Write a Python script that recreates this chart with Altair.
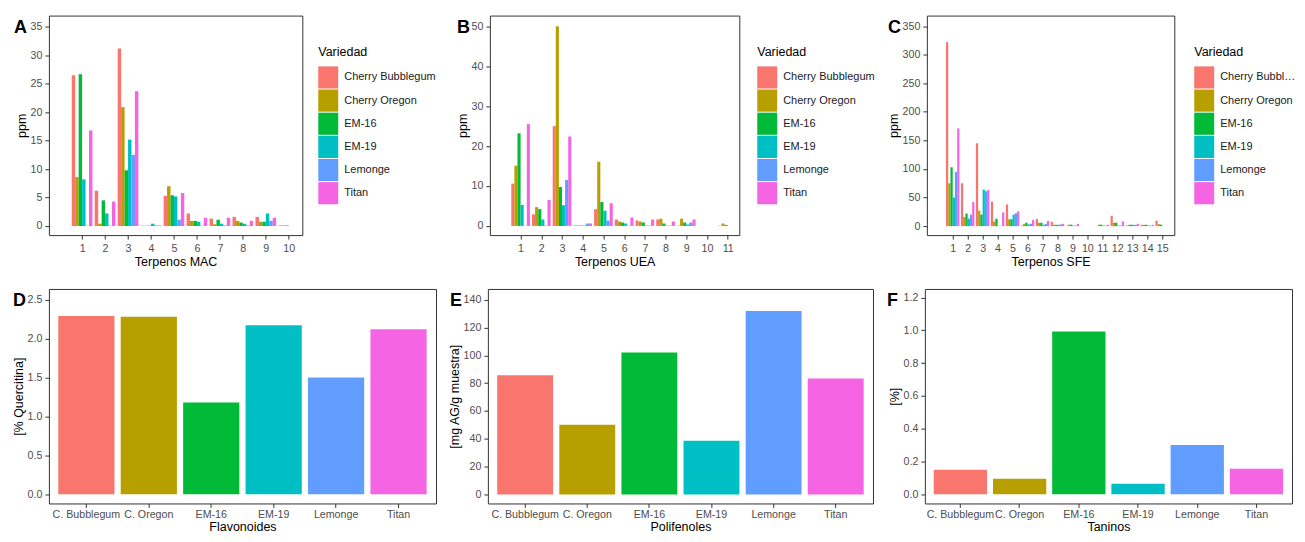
import altair as alt
import pandas as pd

# ---------------- data ----------------
variedades = ["Cherry Bubblegum", "Cherry Oregon", "EM-16", "EM-19", "Lemonge", "Titan"]
etiquetas = ["C. Bubblegum", "C. Oregon", "EM-16", "EM-19", "Lemonge", "Titan"]
colores = ["#F8766D", "#B79F00", "#00BA38", "#00BFC4", "#619CFF", "#F564E3"]

# Terpenos MAC (10 terpenos)
mac_cb = [26.5, 6.2, 31.2, 0.05, 5.3, 2.2, 1.3, 1.6, 1.6, 0.1]
mac_co = [8.6, 0.4, 20.9, 0.05, 7.0, 0.9, 0.3, 0.9, 0.75, 0.1]
mac_em16 = [26.7, 4.5, 9.8, 0.05, 5.4, 0.9, 1.1, 0.6, 0.75, 0.1]
mac_em19 = [8.2, 2.2, 15.2, 0.4, 5.2, 0.75, 0.4, 0.4, 2.2, 0.0]
mac_lem = [0.05, 0.05, 12.5, 0.1, 1.1, 0.05, 0.1, 0.1, 0.9, 0.0]
mac_titan = [16.8, 4.3, 23.7, 0.1, 5.8, 1.45, 1.45, 0.9, 1.45, 0.0]

# Terpenos UEA (11 terpenos)
uea_cb = [10.6, 2.9, 25.0, 0.1, 4.2, 1.6, 1.35, 1.6, 0.1, 0.0, 0.1]
uea_co = [15.1, 4.7, 50.0, 0.1, 16.1, 1.1, 1.1, 1.8, 1.8, 0.0, 0.6]
uea_em16 = [23.2, 4.2, 9.75, 0.1, 6.0, 0.85, 0.85, 0.6, 0.85, 0.0, 0.25]
uea_em19 = [5.25, 1.6, 5.2, 0.1, 3.8, 0.6, 0.1, 0.1, 0.35, 0.0, 0.0]
uea_lem = [0.05, 0.1, 11.5, 0.6, 1.3, 0.05, 0.1, 0.1, 0.85, 0.0, 0.0]
uea_titan = [25.5, 6.5, 22.4, 0.6, 5.7, 2.1, 1.6, 1.1, 1.6, 0.0, 0.0]

# Terpenos SFE (15 terpenos)
sfe_cb = [322, 75, 145, 43, 38, 1, 12.5, 7.5, 0.5, 0, 0.6, 18, 1.2, 2.3, 9.5]
sfe_co = [75, 16, 27, 8, 12, 4, 6, 2.3, 2.5, 0, 2.5, 6, 2.3, 2.3, 3.5]
sfe_em16 = [103, 22, 20, 13, 12, 6, 6, 2.3, 2.5, 0, 2.5, 6, 2.3, 2.3, 2.5]
sfe_em19 = [50, 13, 64, 0.5, 20, 3, 2.3, 2.3, 0.8, 0, 1, 1, 2.3, 1, 0]
sfe_lem = [95, 20, 61, 0.5, 22.5, 4, 4, 3, 1.2, 0, 1, 1, 2.3, 1, 0]
sfe_titan = [171, 42, 63, 24, 26, 10.5, 9, 4, 4, 0, 2.3, 8, 4, 2.3, 0]

# Bottom panels
flavonoides = [2.29, 2.28, 1.18, 2.17, 1.50, 2.12]
polifenoles = [85.6, 50.0, 102.1, 38.6, 131.9, 83.3]
taninos = [0.149, 0.095, 0.992, 0.064, 0.300, 0.155]

# ---------------- style ----------------
FONT = "Liberation Sans"
TICK_LABEL = "#4D4D4D"
FRAME = "#333333"
TICK_FS = 10.7
SYMBOL = "M-1,-1.11L1,-1.11L1,1.11L-1,1.11Z"


def make_legend(lx, ly, limit=200):
    return alt.Legend(
        title="Variedad", orient="none", legendX=lx, legendY=ly,
        symbolType=SYMBOL, symbolSize=400, symbolStrokeWidth=0, symbolOpacity=1,
        rowPadding=-0.8, labelFont=FONT, labelFontSize=11, labelColor="#1A1A1A",
        labelOffset=6, labelLimit=limit, titleFont=FONT, titleFontSize=12.5,
        titleFontWeight="normal", titleColor="black", titlePadding=9.5, padding=0,
    )


def y_axis(title, values, fmt):
    return alt.Axis(
        title=title, values=values, format=fmt, grid=False, domain=False,
        tickColor=FRAME, tickSize=4, labelPadding=3, labelColor=TICK_LABEL,
        labelFont=FONT, labelFontSize=TICK_FS, titleFont=FONT, titleFontSize=12.5,
        titleFontWeight="normal", titleColor="black", titlePadding=2,
    )


def x_axis(title, values=None, fmt=None, label_pad=4, title_pad=3):
    kw = dict(
        title=title, grid=False, domain=False, labelAngle=0,
        tickColor=FRAME, tickSize=4, labelPadding=label_pad, labelColor=TICK_LABEL,
        labelFont=FONT, labelFontSize=TICK_FS, titleFont=FONT, titleFontSize=12.5,
        titleFontWeight="normal", titleColor="black", titlePadding=title_pad,
    )
    if values is not None:
        kw["values"] = values
    if fmt is not None:
        kw["format"] = fmt
    return alt.Axis(**kw)


def letter_layer(letter, dx):
    df = pd.DataFrame({"letra": [letter]})
    return alt.Chart(df).mark_text(
        align="left", baseline="alphabetic", font=FONT, fontSize=18,
        fontWeight="bold", color="black",
    ).encode(x=alt.value(dx), y=alt.value(17.5), text="letra:N")


def terp_panel(letter, dx, series, xtitle, xdomain, ydomain, yticks, width, height, lx, ly, limit=200):
    rows = []
    for slot, (v, vals) in enumerate(zip(variedades, series)):
        for g, val in enumerate(vals, start=1):
            rows.append({"Variedad": v, "slot": slot, "grupo": g, "ppm": val, "base": 0})
    df = pd.DataFrame(rows)
    n = len(series[0])
    bars = alt.Chart(df).transform_calculate(
        x0="datum.grupo - 0.45 + datum.slot * 0.15",
        x1="datum.grupo - 0.30 + datum.slot * 0.15",
    ).mark_bar().encode(
        x=alt.X("x0:Q", scale=alt.Scale(domain=xdomain, nice=False, zero=False),
                axis=x_axis(xtitle, list(range(1, n + 1)), "d")),
        x2="x1:Q",
        y=alt.Y("ppm:Q", scale=alt.Scale(domain=ydomain, nice=False, zero=False),
                axis=y_axis("ppm", yticks, "d")),
        y2="base:Q",
        color=alt.Color("Variedad:N", scale=alt.Scale(domain=variedades, range=colores),
                        legend=make_legend(lx, ly, limit)),
    )
    return alt.layer(bars, letter_layer(letter, dx)).properties(width=width, height=height)


def bar_panel(letter, dx, values, ytitle, xtitle, ydomain, yticks, fmt, width, height):
    df = pd.DataFrame({"Variedad": variedades, "etiqueta": etiquetas, "valor": values})
    bars = alt.Chart(df).mark_bar().encode(
        x=alt.X("etiqueta:N", sort=etiquetas,
                scale=alt.Scale(paddingInner=0.1, paddingOuter=0.15),
                axis=x_axis(xtitle, label_pad=2, title_pad=1)),
        y=alt.Y("valor:Q", scale=alt.Scale(domain=ydomain, nice=False, zero=False),
                axis=y_axis(ytitle, yticks, fmt)),
        color=alt.Color("Variedad:N", scale=alt.Scale(domain=variedades, range=colores),
                        legend=None),
    )
    return alt.layer(bars, letter_layer(letter, dx)).properties(width=width, height=height)


A = terp_panel("A", -35, [mac_cb, mac_co, mac_em16, mac_em19, mac_lem, mac_titan], "Terpenos MAC",
               [-0.446, 10.59], [-1.6, 37.0], list(range(0, 36, 5)), 254, 220, 270, 30)
B = terp_panel("B", -33, [uea_cb, uea_co, uea_em16, uea_em19, uea_lem, uea_titan], "Terpenos UEA",
               [-0.483, 11.56], [-2.3, 52.7], list(range(0, 51, 10)), 250, 220, 268, 30)
C = terp_panel("C", -39, [sfe_cb, sfe_co, sfe_em16, sfe_em19, sfe_lem, sfe_titan], "Terpenos SFE",
               [-0.727, 15.81], [-15.7, 368.5], list(range(0, 351, 50)), 248, 220, 268, 30, 76)

D = bar_panel("D", -36, flavonoides, "[% Quercitina]", "Flavonoides", [-0.117, 2.637],
              [0, 0.5, 1.0, 1.5, 2.0, 2.5], ".1f", 388, 215)
E = bar_panel("E", -38, polifenoles, "[mg AG/g muestra]", "Polifenoles", [-6.5, 147.7],
              list(range(0, 141, 20)), "d", 386, 215)
F = bar_panel("F", -38, taninos, "[%]", "Taninos", [-0.056, 1.252],
              [0, 0.2, 0.4, 0.6, 0.8, 1.0, 1.2], ".1f", 368, 215)

top = alt.hconcat(A, B, C, spacing=188, bounds="flush").resolve_scale(color="independent").resolve_legend(color="independent")
bottom = alt.hconcat(D, E, F, spacing=52, bounds="flush").resolve_scale(color="independent").resolve_legend(color="independent")

chart = alt.vconcat(top, bottom, spacing=19, bounds="full").resolve_scale(
    color="independent").resolve_legend(color="independent").properties(
    padding={"left": 3, "top": 6, "right": 0, "bottom": 0}
).configure(background="white").configure_view(stroke=FRAME, strokeWidth=1)

chart.save("out.html", embed_options={"renderer": "svg", "actions": False})
